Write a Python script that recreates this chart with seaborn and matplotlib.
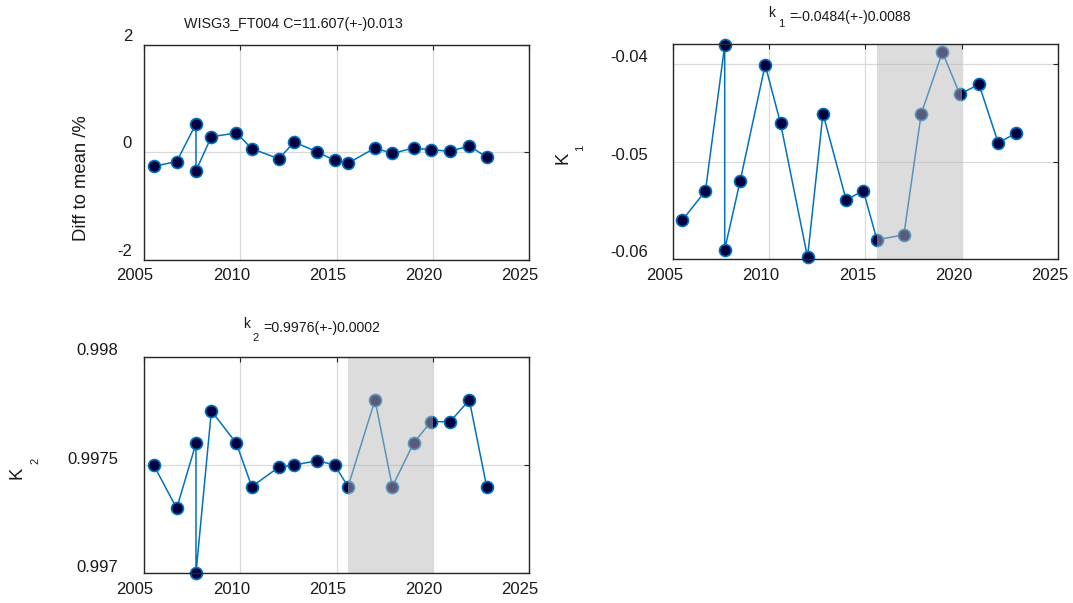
import matplotlib
matplotlib.use("Agg")
import matplotlib.pyplot as plt
import matplotlib.transforms as mtransforms
import pandas as pd
import seaborn as sns

# Yearly calibration results
years = [2005.5, 2006.7, 2007.7, 2007.7, 2008.5, 2009.8, 2010.6, 2012.0, 2012.8, 2014.0,
         2014.9, 2015.6, 2017.0, 2017.9, 2019.0, 2019.9, 2020.9, 2021.9, 2022.8]
diff_pct = [-0.26, -0.17, 0.53, -0.34, 0.29, 0.36, 0.07, -0.12, 0.19, 0.01,
            -0.15, -0.20, 0.08, -0.02, 0.08, 0.05, 0.02, 0.12, -0.09]
k1 = [-0.0560, -0.0530, -0.0381, -0.0590, -0.0520, -0.0401, -0.0461, -0.0598, -0.0451, -0.0539,
      -0.0530, -0.0580, -0.0575, -0.0451, -0.0388, -0.0431, -0.0421, -0.0481, -0.0471]
k2 = [0.99750, 0.99730, 0.99760, 0.99700, 0.99775, 0.99760, 0.99740, 0.99749, 0.99750, 0.99752,
      0.99750, 0.99740, 0.99780, 0.99740, 0.99760, 0.99770, 0.99770, 0.99780, 0.99740]

excluded_window = (2015.6, 2020.0)
x_ticks = [2005, 2010, 2015, 2020, 2025]
diff_ticks = [-2, 0, 2]
k1_ticks = [-0.06, -0.05, -0.04]
k2_ticks = [0.997, 0.9975, 0.998]

title_main = "WISG3_FT004 C=11.607(+-)0.013"
k1_value_text = "=-0.0484(+-)0.0088"
k2_value_text = "=0.9976(+-)0.0002"

LINE = "#0072BD"
FACE = "#00003F"
AXC = "#262626"
TXT = "#1a1a1a"

sns.set_theme(style="white")
plt.rcParams["font.family"] = ["Liberation Sans", "DejaVu Sans"]

W, H = 1073, 603
fig = plt.figure(figsize=(W / 100, H / 100), dpi=100)
fig.patch.set_facecolor("white")

df = pd.DataFrame({"year": years, "diff": diff_pct, "k1": k1, "k2": k2})


def axes_px(left, top, right, bottom):
    return fig.add_axes([left / W, 1 - bottom / H, (right - left) / W, (bottom - top) / H])


def text_px(x, y, s, **kw):
    kw.setdefault("color", TXT)
    return fig.text(x / W, 1 - y / H, s, **kw)


def shift(artist, dx_px, dy_px):
    artist.set_transform(artist.get_transform()
                         + mtransforms.ScaledTranslation(dx_px / 100, dy_px / 100, fig.dpi_scale_trans))


def draw_panel(ax, col, yticks, ylabels, ylim, ypad_px, ydy_px, xdx_px, shade=False):
    sns.lineplot(data=df, x="year", y=col, ax=ax, estimator=None, sort=False,
                 color=LINE, lw=1.1, marker="o", markersize=8.6,
                 markerfacecolor=FACE, markeredgecolor=LINE, markeredgewidth=1.2,
                 clip_on=False, zorder=2)
    if shade:
        ax.axvspan(*excluded_window, facecolor="#b8b8b8", alpha=0.49, lw=0, zorder=3)
    ax.set_xlim(2005, 2025)
    ax.set_ylim(*ylim)
    ax.set_xticks(x_ticks)
    ax.set_xticklabels([str(t) for t in x_ticks])
    ax.set_yticks(yticks)
    ax.set_yticklabels(ylabels)
    ax.set_xlabel("")
    ax.set_ylabel("")
    ax.grid(True, color="#d9d9d9", lw=0.9)
    ax.set_axisbelow(True)
    for sp in ax.spines.values():
        sp.set_color(AXC)
        sp.set_linewidth(1.0)
        sp.set_zorder(4)
        sp.set_visible(True)
    ax.tick_params(direction="in", length=3.5, width=0.8, top=True, right=True,
                   labelsize=12, colors=AXC, labelcolor=TXT)
    ax.tick_params(axis="x", pad=6)
    ax.tick_params(axis="y", pad=ypad_px * 0.72)
    for lab in ax.get_xticklabels():
        shift(lab, xdx_px, 0)
    for lab in ax.get_yticklabels():
        shift(lab, 0, ydy_px)


# Top left: deviation from mean
ax1 = axes_px(144, 44.7, 529, 260)
draw_panel(ax1, "diff", diff_ticks, ["-2", "0", "2"], (-2, 2), 12, 10, -9)

# Top right: k1
ax2 = axes_px(672.7, 44.3, 1058, 259.3)
draw_panel(ax2, "k1", k1_ticks, ["-0.06", "-0.05", "-0.04"], (-0.06, -0.038), 25, 8, -8, shade=True)

# Bottom left: k2
ax3 = axes_px(144, 356.7, 529, 573.3)
draw_panel(ax3, "k2", k2_ticks, ["0.997", "0.9975", "0.998"], (0.997, 0.998), 26, 7.5, -9, shade=True)

# Titles
text_px(184.3, 28.3, title_main, fontsize=10.3, ha="left", va="baseline")

text_px(768.3, 17.3, "k", fontsize=10, ha="left", va="baseline")
text_px(777.7, 26.7, "1", fontsize=8, ha="left", va="baseline")
text_px(789.3, 20.7, k1_value_text, fontsize=10.2, ha="left", va="baseline")

text_px(242.7, 328.3, "k", fontsize=10, ha="left", va="baseline")
text_px(252.3, 340.7, "2", fontsize=8, ha="left", va="baseline")
text_px(263.3, 331.7, k2_value_text, fontsize=10.2, ha="left", va="baseline")

# Axis labels
text_px(81, 178, "Diff to mean /%", fontsize=13.3, rotation=90, ha="center", va="center")

text_px(563.3, 158.3, "K", fontsize=13.3, rotation=90, ha="center", va="center")
text_px(580, 147.8, "1", fontsize=8, rotation=90, ha="center", va="center")

text_px(17.5, 473.3, "K", fontsize=13.3, rotation=90, ha="center", va="center")
text_px(35, 460.8, "2", fontsize=8, rotation=90, ha="center", va="center")

fig.savefig("out.png", dpi=100, facecolor="white")
